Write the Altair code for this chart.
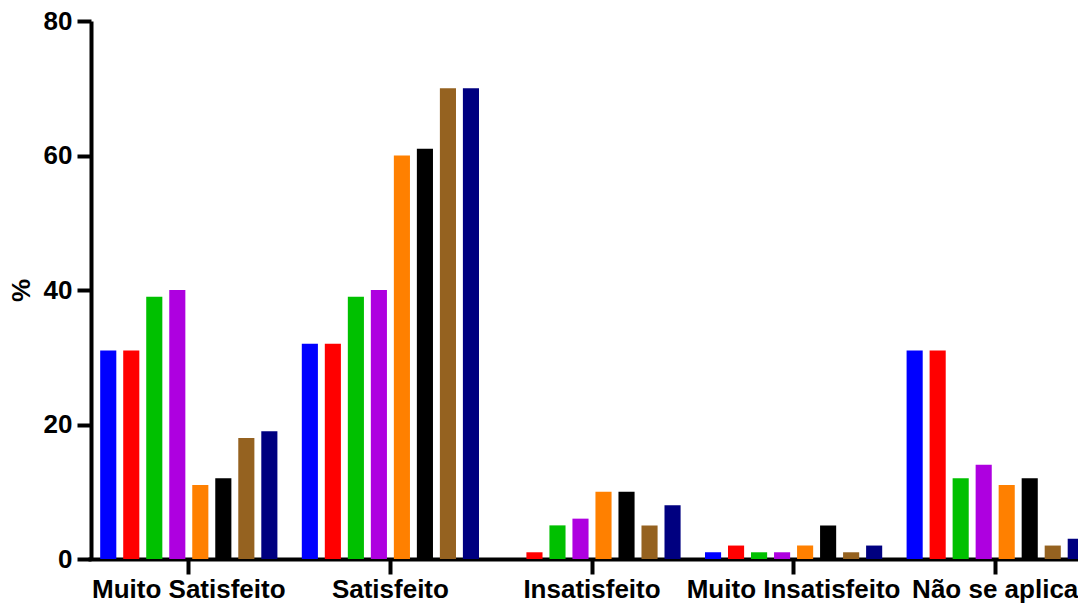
import altair as alt
import pandas as pd

categories = ["Muito Satisfeito", "Satisfeito", "Insatisfeito", "Muito Insatisfeito", "Não se aplica"]
series = ["S1", "S2", "S3", "S4", "S5", "S6", "S7", "S8"]
colors = ["#0000FF", "#FF0000", "#00C000", "#AE00E0", "#FF8000", "#000000", "#956220", "#000080"]

values = {
    "Muito Satisfeito": [31, 31, 39, 40, 11, 12, 18, 19],
    "Satisfeito": [32, 32, 39, 40, 60, 61, 70, 70],
    "Insatisfeito": [0, 1, 5, 6, 10, 10, 5, 8],
    "Muito Insatisfeito": [1, 2, 1, 1, 2, 5, 1, 2],
    "Não se aplica": [31, 31, 12, 14, 11, 12, 2, 3],
}
y_ticks = [0, 20, 40, 60, 80]

rows = []
for c in categories:
    for s, v in zip(series, values[c]):
        rows.append({"cat": c, "series": s, "value": v})
df = pd.DataFrame(rows)

FONT = "Liberation Sans"
FS = 26

chart = alt.Chart(df).mark_bar().encode(
    x=alt.X("cat:N", sort=categories, title=None,
            scale=alt.Scale(range=[0, 1008], paddingInner=0, paddingOuter=0),
            axis=alt.Axis(labelAngle=0, labelFontSize=FS, labelFont=FONT, labelFontWeight="bold",
                          labelColor="black", domainColor="black", domainWidth=4,
                          tickColor="black", tickWidth=4, tickSize=15, labelPadding=2,
                          labelOverlap=False, labelBound=False, labelFlush=False, labelLimit=0)),
    xOffset=alt.XOffset("series:N", sort=series,
                        scale=alt.Scale(paddingInner=0.3, paddingOuter=0.53)),
    y=alt.Y("value:Q", title="%",
            scale=alt.Scale(domain=[0, 80], nice=False),
            axis=alt.Axis(values=y_ticks, grid=False, offset=-3,
                          labelFontSize=FS, labelFont=FONT, labelFontWeight="bold", labelColor="black",
                          domainColor="black", domainWidth=4, tickColor="black", tickWidth=4,
                          tickSize=14, labelPadding=5,
                          titleFontSize=FS, titleFont=FONT, titleFontWeight="bold", titleColor="black",
                          titlePadding=9)),
    color=alt.Color("series:N", sort=series, scale=alt.Scale(domain=series, range=colors), legend=None),
).properties(
    width=990, height=538,
    autosize=alt.AutoSizeParams(type="none"),
    padding={"left": 80, "top": 13, "right": 0, "bottom": 46},
).configure_view(stroke=None)

chart.save("out.html", embed_options={"renderer": "svg", "actions": False})
